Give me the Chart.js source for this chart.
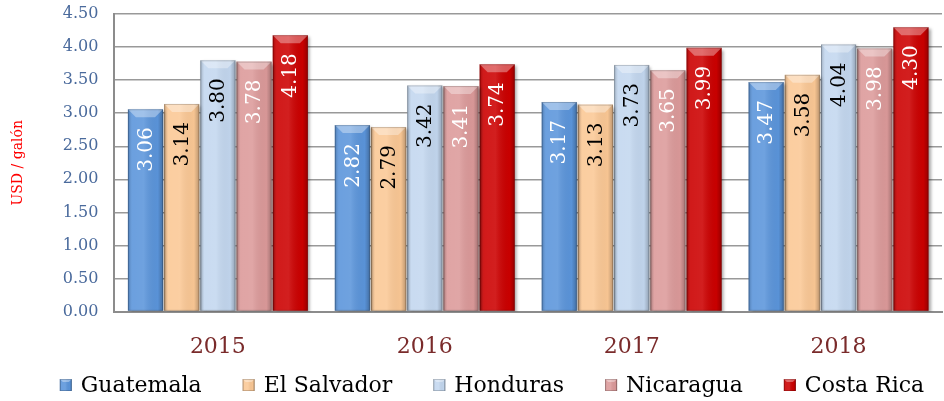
<!DOCTYPE html>
<html>
<head>
<meta charset="utf-8">
<script src="https://cdn.jsdelivr.net/npm/chart.js@4"></script>
<style>
	html, body { margin: 0; padding: 0; background: #fff; }
	#wrap { width: 944px; height: 401px; }
</style>
</head>
<body>
<div id="wrap"><canvas id="precioChart"></canvas></div>
<script>
const years = ['2015', '2016', '2017', '2018'];
const countries = ['Guatemala', 'El Salvador', 'Honduras', 'Nicaragua', 'Costa Rica'];

const guatemala = [3.06, 2.82, 3.17, 3.47];
const elSalvador = [3.14, 2.79, 3.13, 3.58];
const honduras = [3.80, 3.42, 3.73, 4.04];
const nicaragua = [3.78, 3.41, 3.65, 3.98];
const costaRica = [4.18, 3.74, 3.99, 4.30];

const yTicks = [0, 0.5, 1, 1.5, 2, 2.5, 3, 3.5, 4, 4.5];

const barColors = ['#5b95db', '#fbc895', '#c3d7ef', '#dc9a9a', '#cc0000'];
const labelColors = ['#ffffff', '#000000', '#000000', '#ffffff', '#ffffff'];

const serif = '"DejaVu Serif", "Liberation Serif", serif';

// sombra bajo las barras
const shadowPlugin = {
	id: 'barShadow',
	beforeDatasetsDraw(chart) {
		const ctx = chart.ctx;
		ctx.save();
		ctx.shadowColor = 'rgba(0, 0, 0, 0.35)';
		ctx.shadowOffsetX = 2;
		ctx.shadowOffsetY = 2;
		ctx.shadowBlur = 3;
	},
	afterDatasetsDraw(chart) {
		chart.ctx.restore();
	},
};

function bevelBox(ctx, left, top, w, h, bev) {
	const g = ctx.createLinearGradient(left, 0, left + w, 0);
	g.addColorStop(0, 'rgba(0,0,0,0.22)');
	g.addColorStop(0.12, 'rgba(255,255,255,0.10)');
	g.addColorStop(0.45, 'rgba(255,255,255,0.12)');
	g.addColorStop(0.85, 'rgba(0,0,0,0.02)');
	g.addColorStop(1, 'rgba(0,0,0,0.25)');
	ctx.fillStyle = g;
	ctx.fillRect(left, top, w, h);

	ctx.beginPath();
	ctx.moveTo(left, top);
	ctx.lineTo(left + w, top);
	ctx.lineTo(left + w - bev, top + bev);
	ctx.lineTo(left + bev, top + bev);
	ctx.closePath();
	ctx.fillStyle = 'rgba(255,255,255,0.35)';
	ctx.fill();

	ctx.strokeStyle = 'rgba(0,0,0,0.18)';
	ctx.lineWidth = 1;
	ctx.strokeRect(left + 0.5, top + 0.5, w - 1, h - 1);
}

// brillo tipo 3D y etiquetas verticales
const bevelPlugin = {
	id: 'bevelLabels',
	afterDatasetsDraw(chart) {
		const ctx = chart.ctx;
		chart.data.datasets.forEach((ds, i) => {
			const meta = chart.getDatasetMeta(i);
			meta.data.forEach((bar, j) => {
				const left = bar.x - bar.width / 2;
				const top = bar.y;

				ctx.save();
				bevelBox(ctx, left, top, bar.width, bar.base - top, 8);
				ctx.restore();

				const value = ds.data[j];
				ctx.save();
				ctx.translate(bar.x, top + 18);
				ctx.rotate(-Math.PI / 2);
				ctx.font = '20px ' + serif;
				ctx.fillStyle = labelColors[i];
				ctx.textAlign = 'right';
				ctx.textBaseline = 'middle';
				ctx.fillText(value.toFixed(2), 0, 1);
				ctx.restore();
			});
		});
	},
};

// leyenda propia (la de Chart.js usa el mismo padding en vertical)
const legendPlugin = {
	id: 'bottomLegend',
	afterDraw(chart) {
		const ctx = chart.ctx;
		const box = 12;
		const gapText = 9;
		const gapItem = 41;
		const y = chart.height - 16;
		ctx.save();
		ctx.font = '22px ' + serif;
		const widths = countries.map((c) => ctx.measureText(c).width);
		const total = widths.reduce((a, w) => a + box + gapText + w, 0) + gapItem * (countries.length - 1);
		let x = (chart.width - total) / 2 + 20;
		countries.forEach((c, i) => {
			ctx.fillStyle = barColors[i];
			ctx.fillRect(x, y - box / 2, box, box);
			bevelBox(ctx, x, y - box / 2, box, box, 3);
			ctx.fillStyle = '#000';
			ctx.textBaseline = 'middle';
			ctx.textAlign = 'left';
			ctx.fillText(c, x + box + gapText, y + 1);
			x += box + gapText + widths[i] + gapItem;
		});
		ctx.restore();
	},
};

const seriesData = [guatemala, elSalvador, honduras, nicaragua, costaRica];

new Chart(document.getElementById('precioChart').getContext('2d'), {
	type: 'bar',
	data: {
		labels: years,
		datasets: countries.map((name, i) => ({
			label: name,
			data: seriesData[i],
			backgroundColor: barColors[i],
			borderWidth: 0,
			categoryPercentage: 0.875,
			barPercentage: 0.97,
		})),
	},
	options: {
		responsive: true,
		maintainAspectRatio: false,
		animation: false,
		layout: {
			padding: { left: 10, right: 2, top: 14, bottom: 19 },
		},
		plugins: {
			legend: { display: false },
			tooltip: { enabled: false },
		},
		scales: {
			x: {
				grid: { display: false, drawTicks: false },
				border: { display: true, color: '#8c8c8c', width: 2 },
				ticks: {
					font: { family: serif, size: 22 },
					color: '#7a2b2b',
					padding: 22,
				},
			},
			y: {
				min: 0,
				max: 4.5,
				afterBuildTicks(axis) {
					axis.ticks = yTicks.map((v) => ({ value: v }));
				},
				afterFit(axis) {
					axis.paddingTop = 0;
				},
				grid: { color: '#999999', lineWidth: 1.5, drawTicks: false },
				border: { display: true, color: '#8c8c8c', width: 2 },
				ticks: {
					font: { family: serif, size: 16 },
					color: '#4a6a9c',
					padding: 16,
					callback: (v) => Number(v).toFixed(2),
				},
				title: {
					display: true,
					text: 'USD / galón',
					color: '#ff0000',
					font: { family: serif, size: 14 },
					padding: { top: 0, bottom: 20 },
				},
			},
		},
	},
	plugins: [shadowPlugin, bevelPlugin, legendPlugin],
});
</script>
</body>
</html>
